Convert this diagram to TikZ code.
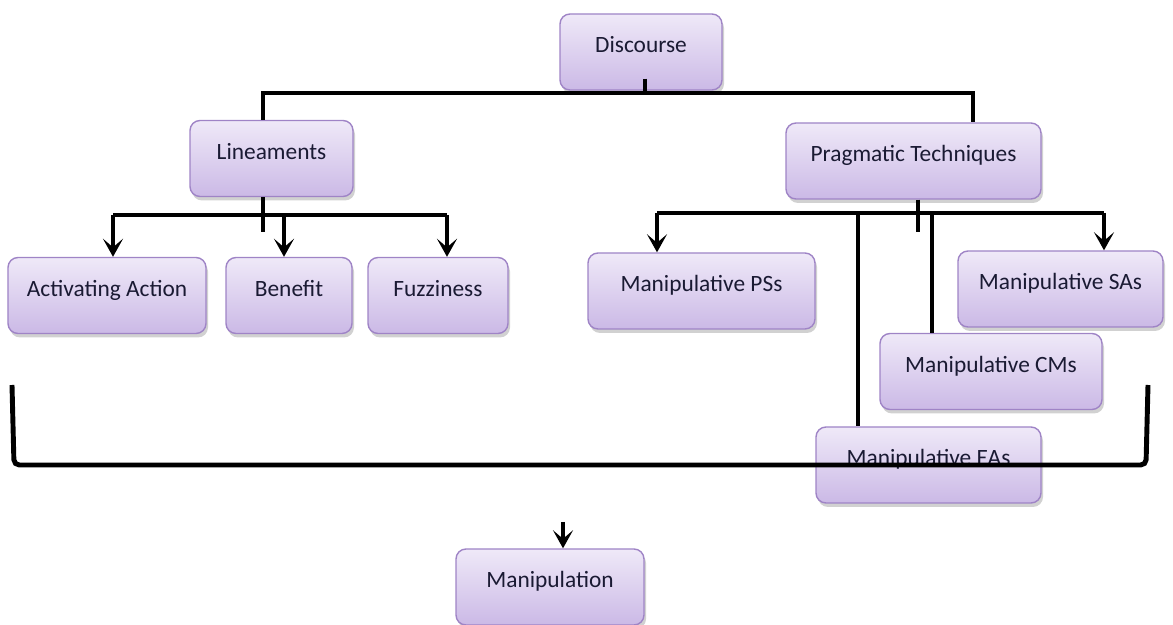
\documentclass[tikz,border=0pt]{standalone}
\usepackage{fontspec}
\setmainfont{Carlito}
\usetikzlibrary{arrows.meta,shadows}
\definecolor{boxtop}{HTML}{EFE9F8}
\definecolor{boxbot}{HTML}{CBB9E6}
\definecolor{boxline}{HTML}{9F84C6}
\definecolor{txt}{HTML}{1A1A33}
\begin{document}
\begin{tikzpicture}[>={Stealth[length=3.6mm,width=4mm,inset=1.7mm]}, line width=2.8pt,
  every node/.style={font=\fontsize{13.3}{15}\selectfont, text=txt},
  kbox/.style={draw=boxline, line width=0.8pt, rounded corners=0.2cm, top color=boxtop, bottom color=boxbot,
    drop shadow={shadow xshift=0.4mm, shadow yshift=-0.8mm, fill=black!40, opacity=0.45},
    inner sep=0pt, text height=0.78cm, text depth=0.74cm}]
\useasboundingbox (0,0) rectangle (23.46,12.5);
\node[kbox,minimum width=3.24cm] (d) at (12.82,11.46) {Discourse};
\node[kbox,minimum width=3.26cm] (lin) at (5.43,9.33) {Lineaments};
\node[kbox,minimum width=5.10cm] (prag) at (18.27,9.28) {Pragmatic Techniques};
\node[kbox,minimum width=3.96cm] (act) at (2.14,6.59) {Activating Action};
\node[kbox,minimum width=2.52cm] (ben) at (5.78,6.59) {Benefit};
\node[kbox,minimum width=2.80cm] (fuz) at (8.76,6.59) {Fuzziness};
\node[kbox,minimum width=4.54cm] (ps) at (14.03,6.68) {Manipulative PSs};
\node[kbox,minimum width=4.10cm] (sa) at (21.21,6.72) {Manipulative SAs};
\node[kbox,minimum width=4.44cm] (cm) at (19.82,5.07) {Manipulative CMs};
\node[kbox,minimum width=4.50cm] (ea) at (18.57,3.20) {Manipulative EAs};
\node[kbox,minimum width=3.76cm] (man) at (11.00,0.76) {Manipulation};
% top level
\coordinate (dl) at (5.26,10.64); \coordinate (dr) at (19.46,10.64); \coordinate (dm) at (12.90,10.64);
\draw (dm |- d.south) ++(0,0.24) -- (dm);
\draw (dl |- lin.north) -- (dl) -- (dr) -- (dr |- prag.north);
% lineaments
\coordinate (ls) at (5.26,7.86); \coordinate (la) at (2.26,8.20); \coordinate (lb) at (5.68,8.20); \coordinate (lc) at (8.94,8.20);
\draw (ls |- lin.south) -- (ls);
\draw[->] (la) -- (la |- act.north);
\draw (la) -- (lc);
\draw[->] (lb) -- (lb |- ben.north);
\draw[->] (lc) -- (lc |- fuz.north);
% pragmatic techniques
\coordinate (ps0) at (18.36,7.86); \coordinate (pa) at (13.14,8.24); \coordinate (pb) at (22.08,8.24);
\coordinate (pe) at (17.16,8.24); \coordinate (pc) at (18.64,8.24);
\draw (ps0 |- prag.south) -- (ps0);
\draw[->] (pa) -- (pa |- ps.north);
\draw (pa) -- (pb);
\draw[->] (pb) -- (pb |- sa.north);
\draw (pe) -- (pe |- ea.north);
\draw (pc) -- (pc |- cm.north);
% bracket
\coordinate (bl) at (0.24,4.80); \coordinate (br) at (22.96,4.80); \coordinate (bm) at (11.26,2.06);
\draw[rounded corners=3pt] (bl) -- (0.28,3.20) -- (22.92,3.20) -- (br);
\draw[->] (bm) -- (bm |- man.north);
\end{tikzpicture}
\end{document}
